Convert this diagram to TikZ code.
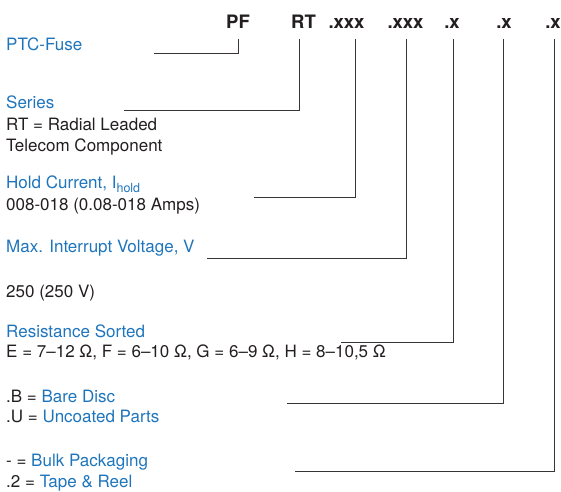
\documentclass[tikz,border=0pt]{standalone}
\usepackage{fontspec}
\setmainfont{TeX Gyre Heros}
\definecolor{lblue}{RGB}{30,117,188}
\definecolor{ink}{RGB}{35,31,32}
\begin{document}
\begin{tikzpicture}[x=1pt,y=-1pt,
  lbl/.style={anchor=base west,inner sep=0pt,font=\fontsize{17}{20}\selectfont,text=ink},
  bl/.style={lbl,text=lblue},
  hdr/.style={anchor=base,inner sep=0pt,font=\fontsize{18.5}{22}\selectfont\bfseries,text=ink},
  ln/.style={draw=ink!90,line width=1pt}]
\useasboundingbox (0,0) rectangle (561,491);
% header
\node[hdr] (hPF) at (238,28) {PF};
\node[hdr] (hRT) at (303.5,28) {RT};
\node[hdr] (hX1) at (346.5,28) {.xxx};
\node[hdr] (hX2) at (405.5,28) {.xxx};
\node[hdr] (hX3) at (452,28) {.x};
\node[hdr] (hX4) at (504,28) {.x};
\node[hdr] (hX5) at (553,28) {.x};
% labels
\node[bl] (tPTC) at (6,50) {PTC-Fuse};
\node[bl] (tSer) at (6,108) {Series};
\node[lbl] (tRT) at (6,130) {RT = Radial Leaded};
\node[lbl] (tTel) at (6,151) {Telecom Component};
\node[bl] (tHold) at (6,188) {Hold Current, I\raisebox{-4pt}{\fontsize{12.5}{14}\selectfont hold}};
\node[lbl] (tAmp) at (6,210) {008-018 (0.08-018 Amps)};
\node[bl] (tMax) at (6,252) {Max. Interrupt Voltage, V};
\node[lbl] (t250) at (6,297) {250 (250 V)};
\node[bl] (tRes) at (6,337) {Resistance Sorted};
\node[lbl] (tEF) at (6,357) {E = 7–12 Ω, F = 6–10 Ω, G = 6–9 Ω, H = 8–10,5 Ω};
\node[lbl] (tB) at (6,402) {.B = \textcolor{lblue}{Bare Disc}};
\node[lbl] (tU) at (6,422) {.U = \textcolor{lblue}{Uncoated Parts}};
\node[lbl] (tBulk) at (6,466) {- = \textcolor{lblue}{Bulk Packaging}};
\node[lbl] (tTape) at (6,487) {.2 = \textcolor{lblue}{Tape \& Reel}};
% connector ends
\coordinate (cPF) at (238,39);  \coordinate (ePF) at (154,53);
\coordinate (cRT) at (299,39);  \coordinate (eRT) at (124,110);
\coordinate (cX1) at (355,39);  \coordinate (eX1) at (254,197);
\coordinate (cX2) at (406,39);  \coordinate (eX2) at (207,258);
\coordinate (cX3) at (453,39);  \coordinate (eX3) at (341,342);
\coordinate (cX4) at (503,39);  \coordinate (eX4) at (287,403);
\coordinate (cX5) at (554.5,39);\coordinate (eX5) at (295,471);
\draw[ln] (cPF) |- (ePF);
\draw[ln] (cRT) |- (eRT);
\draw[ln] (cX1) |- (eX1);
\draw[ln] (cX2) |- (eX2);
\draw[ln] (cX3) |- (eX3);
\draw[ln] (cX4) |- (eX4);
\draw[ln] (cX5) |- (eX5);
\end{tikzpicture}
\end{document}
